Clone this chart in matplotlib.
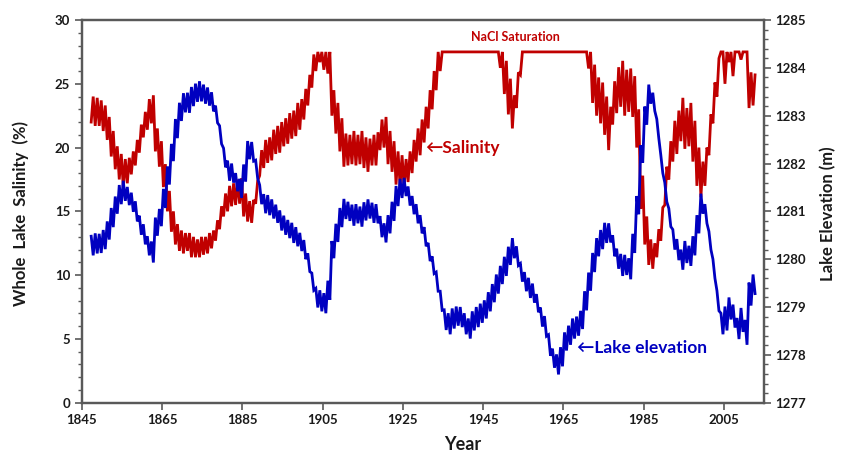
import numpy as np
import matplotlib
matplotlib.use('Agg')
import matplotlib.pyplot as plt
from matplotlib.ticker import MultipleLocator

plt.rcParams['font.family'] = ['Lato', 'DejaVu Sans']
plt.rcParams['font.weight'] = 'bold'

# ---------------- data ----------------
years = np.arange(1847, 2013)

# yearly mean lake elevation (m)
elev_mean = [
    1280.28, 1280.33, 1280.33,
    1280.41, 1280.60, 1280.87, 1281.13, 1281.35, 1281.43, 1281.32, 1281.19, 1281.00, 1280.71,
    1280.52, 1280.28, 1280.15, 1280.68, 1280.87, 1281.27, 1281.75, 1282.23, 1282.73, 1283.08,
    1283.27, 1283.27, 1283.40, 1283.48, 1283.51, 1283.45, 1283.40, 1283.29, 1283.03, 1282.60,
    1282.12, 1281.85, 1281.80, 1281.61, 1281.48, 1281.80, 1282.28, 1282.25, 1281.88, 1281.35,
    1281.16, 1281.13, 1281.05, 1280.95, 1280.81, 1280.71, 1280.63, 1280.55, 1280.47, 1280.36,
    1280.20, 1279.93, 1279.53, 1279.19, 1279.13, 1279.08, 1279.35, 1280.20, 1280.55, 1280.87,
    1281.05, 1281.00, 1280.92, 1280.95, 1280.89, 1281.00, 1281.05, 1280.97, 1280.95, 1280.68,
    1280.55, 1280.73, 1281.00, 1281.32, 1281.48, 1281.51, 1281.32, 1281.13, 1280.95, 1280.73,
    1280.47, 1280.15, 1279.88, 1279.53, 1279.13, 1278.73, 1278.65, 1278.76, 1278.81, 1278.79,
    1278.65, 1278.55, 1278.71, 1278.79, 1278.87, 1278.95, 1279.11, 1279.29, 1279.48, 1279.67,
    1279.85, 1280.07, 1280.23, 1280.07, 1279.72, 1279.53, 1279.40, 1279.29, 1279.08, 1278.79,
    1278.60, 1278.20, 1277.93, 1277.80, 1277.96, 1278.28, 1278.41, 1278.55, 1278.60, 1278.73,
    1279.13, 1279.53, 1279.93, 1280.25, 1280.41, 1280.55, 1280.55, 1280.28, 1280.01, 1279.88,
    1279.88, 1279.80, 1280.33, 1281.13, 1282.20, 1283.00, 1283.45, 1283.29, 1282.73, 1281.99,
    1281.40, 1280.87, 1280.41, 1280.20, 1279.99, 1280.15, 1280.07, 1280.28, 1280.73, 1281.16,
    1280.95, 1280.39, 1279.80, 1279.13, 1278.65, 1278.76, 1278.97, 1278.81, 1278.55, 1278.73,
    1278.47, 1279.27, 1279.48,
]
# yearly spring-high minus autumn-low (m)
elev_swing = [
    0.40, 0.42, 0.40,
    0.40, 0.38, 0.40, 0.36, 0.40, 0.42, 0.38, 0.40, 0.42, 0.40,
    0.42, 0.40, 0.44, 0.38, 0.36, 0.40, 0.38, 0.36, 0.40, 0.38,
    0.40, 0.42, 0.40, 0.38, 0.42, 0.40, 0.38, 0.40, 0.36, 0.38,
    0.40, 0.42, 0.40, 0.38, 0.40, 0.36, 0.38, 0.40, 0.38, 0.40,
    0.40, 0.42, 0.40, 0.38, 0.42, 0.40, 0.38, 0.42, 0.40, 0.38,
    0.40, 0.38, 0.36, 0.40, 0.44, 0.42, 0.40, 0.36, 0.38, 0.40,
    0.42, 0.40, 0.44, 0.40, 0.42, 0.38, 0.40, 0.42, 0.40, 0.44,
    0.40, 0.38, 0.40, 0.42, 0.40, 0.38, 0.40, 0.38, 0.40, 0.38,
    0.40, 0.38, 0.36, 0.40, 0.40, 0.42, 0.44, 0.42, 0.40, 0.42,
    0.44, 0.42, 0.40, 0.42, 0.40, 0.38, 0.40, 0.38, 0.40, 0.38,
    0.40, 0.38, 0.42, 0.40, 0.38, 0.40, 0.42, 0.40, 0.38, 0.40,
    0.42, 0.44, 0.40, 0.42, 0.40, 0.38, 0.40, 0.42, 0.40, 0.38,
    0.40, 0.38, 0.40, 0.38, 0.40, 0.42, 0.40, 0.44, 0.42, 0.46,
    0.42, 0.44, 0.40, 0.38, 0.36, 0.38, 0.40, 0.38, 0.40, 0.38,
    0.40, 0.38, 0.42, 0.44, 0.42, 0.46, 0.42, 0.40, 0.38, 0.42,
    0.40, 0.38, 0.40, 0.42, 0.44, 0.50, 0.46, 0.48, 0.44, 0.50,
    0.52, 0.48, 0.40,
]
# yearly mean whole-lake salinity (%)
sal_mean = [
    23.0, 22.8, 22.7,
    22.3, 21.5, 20.3, 19.2, 18.5, 18.0, 18.2, 18.8, 19.6, 20.7,
    21.8, 22.6, 23.0, 20.6, 19.5, 17.8, 15.8, 14.2, 13.2, 12.7,
    12.5, 12.6, 12.2, 12.1, 12.2, 12.3, 12.5, 12.8, 13.5, 14.5,
    15.5, 16.0, 16.3, 16.5, 16.6, 15.5, 15.0, 15.0, 16.5, 18.8,
    19.5, 19.8, 20.2, 20.6, 20.8, 21.2, 21.5, 21.8, 22.2, 22.6,
    23.4, 24.5, 26.0, 27.0, 27.5, 27.2, 27.0, 23.5, 22.3, 21.0,
    19.8, 19.8, 20.0, 19.8, 20.0, 19.6, 19.4, 19.8, 19.9, 21.0,
    21.2, 20.0, 19.3, 18.4, 18.2, 18.0, 18.5, 19.3, 20.2, 20.8,
    21.8, 23.0, 24.5, 26.0, 27.0, 27.5, 27.5, 27.5, 27.5, 27.5,
    27.5, 27.5, 27.5, 27.5, 27.5, 27.5, 27.5, 27.5, 27.5, 27.0,
    25.5, 24.0, 22.8, 24.5, 26.7, 27.5, 27.5, 27.5, 27.5, 27.5,
    27.5, 27.5, 27.5, 27.5, 27.5, 27.5, 27.5, 27.5, 27.5, 27.5,
    27.5, 27.0, 25.0, 24.0, 23.5, 22.5, 21.5, 23.5, 24.5, 25.0,
    24.3, 24.5, 24.0, 21.5, 16.5, 13.5, 11.8, 11.5, 12.5, 14.0,
    17.0, 19.0, 20.5, 21.2, 22.2, 21.5, 21.8, 20.5, 18.5, 17.5,
    18.5, 21.0, 23.5, 25.5, 27.5, 26.5, 27.3, 26.8, 27.5, 27.3,
    27.5, 24.5, 24.5,
]
# yearly salinity swing (%), 0 while the lake sits at NaCl saturation
sal_swing = [
    2.0, 2.2, 2.0,
    2.0, 1.8, 2.0, 1.8, 2.0, 2.2, 2.0, 1.8, 2.0, 2.2,
    2.0, 2.4, 2.2, 1.8, 2.0, 1.8, 1.6, 1.6, 1.6, 1.6,
    1.6, 1.4, 1.6, 1.4, 1.6, 1.4, 1.6, 1.4, 1.6, 1.8,
    1.8, 2.0, 1.8, 2.0, 2.0, 1.8, 1.6, 1.8, 1.8, 2.0,
    2.2, 2.0, 2.4, 2.2, 2.4, 2.2, 2.4, 2.2, 2.6, 2.4,
    2.4, 2.4, 2.6, 2.0, 1.6, 2.2, 2.4, 2.0, 2.4, 2.6,
    2.6, 2.4, 2.6, 2.4, 2.6, 2.4, 2.6, 2.4, 2.6, 2.4,
    2.4, 2.6, 2.4, 2.6, 2.4, 2.2, 2.4, 2.6, 2.6, 2.8,
    2.8, 3.0, 3.0, 3.0, 2.0, 0.0, 0.0, 0.0, 0.0, 0.0,
    0.0, 0.0, 0.0, 0.0, 0.0, 0.0, 0.0, 0.0, 0.0, 1.5,
    2.6, 2.8, 2.6, 2.8, 2.0, 0.0, 0.0, 0.0, 0.0, 0.0,
    0.0, 0.0, 0.0, 0.0, 0.0, 0.0, 0.0, 0.0, 0.0, 0.0,
    0.0, 1.6, 3.0, 3.0, 3.2, 3.0, 3.4, 3.4, 3.6, 3.6,
    3.6, 3.4, 3.2, 3.0, 2.6, 2.2, 2.0, 2.0, 2.2, 2.6,
    3.0, 3.0, 3.2, 3.4, 3.4, 3.2, 3.4, 3.2, 3.0, 2.8,
    3.0, 3.2, 3.2, 3.0, 0.0, 3.0, 1.2, 2.4, 0.0, 0.8,
    0.0, 2.8, 2.4,
]
NACL_SAT = 27.5

x_ticks = [1845, 1865, 1885, 1905, 1925, 1945, 1965, 1985, 2005]

RED = '#C00000'
BLUE = '#0000C0'
SPINE = '#595959'


def seasonal(yrs, mean, swing, high_first):
    mean = np.asarray(mean, float)
    swing = np.asarray(swing, float)
    t = np.empty(2 * len(yrs))
    v = np.empty(2 * len(yrs))
    t[0::2] = yrs + 0.3
    t[1::2] = yrs + 0.8
    hi = mean + swing / 2
    lo = mean - swing / 2
    if high_first:
        v[0::2], v[1::2] = hi, lo
    else:
        v[0::2], v[1::2] = lo, hi
    return t, v


t_s, v_s = seasonal(years, sal_mean, sal_swing, high_first=False)
v_s = np.minimum(v_s, NACL_SAT)
t_e, v_e = seasonal(years, elev_mean, elev_swing, high_first=True)

fig = plt.figure(figsize=(8.45, 4.55), dpi=100)
ax = fig.add_axes([0.097, 0.115, 0.807, 0.841])
ax2 = ax.twinx()

ax.plot(t_s, v_s, color=RED, lw=2.0, solid_joinstyle='miter')
ax2.plot(t_e, v_e, color=BLUE, lw=2.0, solid_joinstyle='miter')

ax.set_xlim(1845, 2015)
ax.set_ylim(0, 30)
ax2.set_ylim(1277, 1285)

ax.set_xticks(x_ticks)
ax.yaxis.set_major_locator(MultipleLocator(5))
ax.yaxis.set_minor_locator(MultipleLocator(1))
ax2.yaxis.set_major_locator(MultipleLocator(1))
ax2.yaxis.set_minor_locator(MultipleLocator(0.2))

for a in (ax, ax2):
    for sp in a.spines.values():
        sp.set_color(SPINE)
        sp.set_linewidth(1.6)
    a.tick_params(which='major', direction='out', length=5, width=1.2,
                  color=SPINE, labelsize=9.5, labelcolor='#1a1a1a')
    a.tick_params(which='minor', direction='out', length=3, width=1.0, color=SPINE)
    for lab in a.get_xticklabels() + a.get_yticklabels():
        lab.set_fontweight('bold')

ax.text(1953.0, 28.2, 'NaCl Saturation', color=RED, fontsize=9, fontweight='bold',
        ha='center', va='bottom')
ax.text(1930.5, 20.0, '\u2190Salinity', color=RED, fontsize=12.5, fontweight='bold',
        ha='left', va='center')
ax2.text(1968.5, 1278.15, '\u2190Lake elevation', color=BLUE, fontsize=12.5,
         fontweight='bold', ha='left', va='center')

fig.text(0.024, 0.53, 'Whole  Lake  Salinity  (%)', rotation=90, ha='center', va='center',
         fontsize=12, fontweight='bold', color='#1a1a1a')
fig.text(0.980, 0.53, 'Lake Elevation (m)', rotation=90, ha='center', va='center',
         fontsize=12, fontweight='bold', color='#1a1a1a')
fig.text(0.548, 0.022, 'Year', ha='center', va='center', fontsize=13,
         fontweight='bold', color='#1a1a1a')

fig.savefig('out.png', dpi=100)
